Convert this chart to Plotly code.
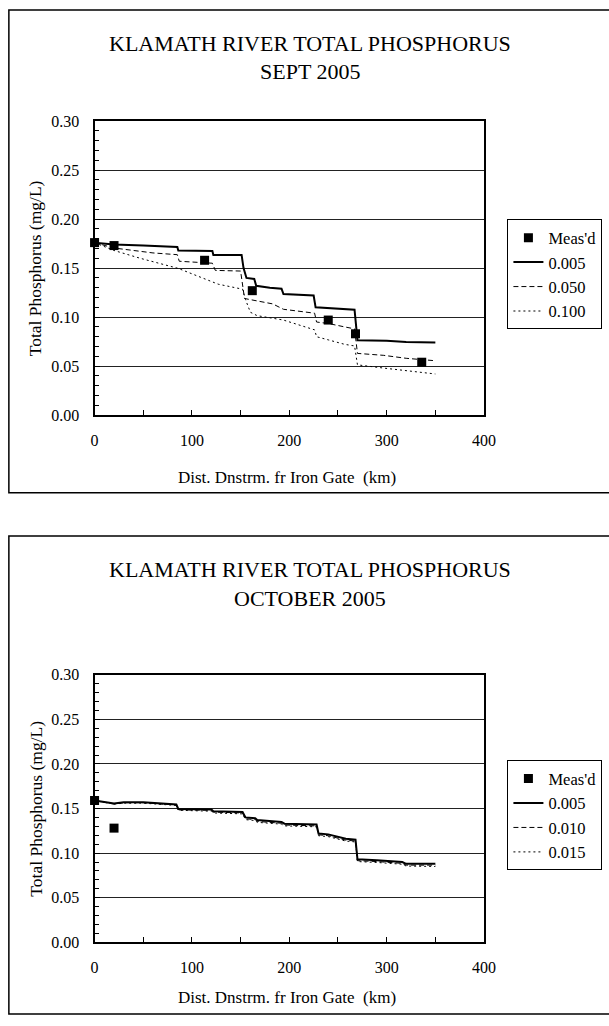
import plotly.graph_objects as go

# ---------------- September 2005 ----------------
sep_meas_km = [0, 20, 113, 162, 240, 268, 336]
sep_meas_tp = [0.176, 0.173, 0.158, 0.127, 0.097, 0.083, 0.054]

sep_005_km = [0, 20, 50, 85, 86, 121, 122, 151, 153, 156, 164, 166, 180, 192, 194,
              225, 227, 240, 255, 267, 270, 300, 320, 350]
sep_005_tp = [0.176, 0.174, 0.173, 0.1715, 0.168, 0.1675, 0.1635, 0.1635, 0.150, 0.140,
              0.139, 0.132, 0.130, 0.129, 0.1235, 0.122, 0.110, 0.109, 0.108, 0.1075,
              0.0765, 0.076, 0.0745, 0.0742]

sep_050_km = [0, 20, 60, 85, 87, 121, 124, 150, 154, 167, 183, 194, 226, 228, 240,
              257, 267, 270, 297, 320, 350]
sep_050_tp = [0.176, 0.1705, 0.1655, 0.1637, 0.157, 0.155, 0.1477, 0.147, 0.119,
              0.1165, 0.1135, 0.108, 0.104, 0.095, 0.0935, 0.090, 0.088, 0.063, 0.061,
              0.058, 0.0555]

sep_100_km = [0, 20, 47, 86, 127, 152, 155, 160, 167, 184, 194, 226, 228, 240, 257,
              267, 270, 297, 350]
sep_100_tp = [0.176, 0.168, 0.160, 0.1497, 0.1336, 0.1285, 0.118, 0.105, 0.1015,
              0.0983, 0.097, 0.087, 0.080, 0.0768, 0.0722, 0.0706, 0.0513, 0.048, 0.042]

# ---------------- October 2005 ----------------
oct_meas_km = [0, 20]
oct_meas_tp = [0.159, 0.128]

oct_km = [0, 10, 20, 30, 50, 84, 86, 120, 122, 152, 155, 165, 167, 192, 195, 228,
          230, 240, 252, 258, 268, 270, 290, 316, 320, 350]
oct_005_tp = [0.159, 0.157, 0.1555, 0.157, 0.157, 0.1545, 0.1495, 0.149, 0.147, 0.146,
              0.140, 0.139, 0.137, 0.135, 0.133, 0.132, 0.122, 0.121, 0.118, 0.116,
              0.115, 0.093, 0.092, 0.090, 0.088, 0.088]
oct_010_tp = [0.159, 0.157, 0.155, 0.1565, 0.1565, 0.154, 0.1485, 0.148, 0.146, 0.145,
              0.1385, 0.1375, 0.1355, 0.1335, 0.1315, 0.1305, 0.1205, 0.1195, 0.1165,
              0.1145, 0.1135, 0.0915, 0.0905, 0.0885, 0.0865, 0.0865]
oct_015_tp = [0.159, 0.157, 0.155, 0.156, 0.156, 0.1535, 0.148, 0.147, 0.145, 0.144,
              0.1375, 0.1365, 0.1345, 0.1325, 0.1305, 0.1295, 0.1195, 0.1185, 0.1155,
              0.1135, 0.1125, 0.0905, 0.0895, 0.0875, 0.0855, 0.085]

W, H = 609, 1026
FONT = "Liberation Serif, Times New Roman, serif"


def fx(px):
    return px / W


def fy(py):
    return 1 - py / H


fig = go.Figure()

panels = [
    dict(xa="x", ya="y", legend="legend",
         meas=(sep_meas_km, sep_meas_tp),
         lines=[(sep_005_km, sep_005_tp, "0.005"),
                (sep_050_km, sep_050_tp, "0.050"),
                (sep_100_km, sep_100_tp, "0.100")]),
    dict(xa="x2", ya="y2", legend="legend2",
         meas=(oct_meas_km, oct_meas_tp),
         lines=[(oct_km, oct_005_tp, "0.005"),
                (oct_km, oct_010_tp, "0.010"),
                (oct_km, oct_015_tp, "0.015")]),
]
styles = [dict(width=2, dash="solid"),
          dict(width=1, dash="5px,3px"),
          dict(width=1, dash="2px,3px")]

for p in panels:
    for (xs, ys, name), st in zip(p["lines"], styles):
        fig.add_trace(go.Scatter(
            x=xs, y=ys, name=name, mode="lines", xaxis=p["xa"], yaxis=p["ya"],
            legend=p["legend"], legendrank=2,
            line=dict(color="black", width=st["width"], dash=st["dash"])))
    fig.add_trace(go.Scatter(
        x=p["meas"][0], y=p["meas"][1], name="Meas'd", mode="markers",
        xaxis=p["xa"], yaxis=p["ya"], legend=p["legend"], legendrank=1,
        cliponaxis=False,
        marker=dict(symbol="square", size=9, color="black")))

# plot-area pixel boxes: (left, top, right, bottom)
boxes = [(93, 115, 493, 414), (93, 678, 493, 950)]

xaxis_style = dict(range=[0, 400], dtick=100, tick0=0, ticks="inside", ticklen=5,
                   tickcolor="black", showgrid=False, zeroline=False,
                   showline=True, mirror=True, linecolor="black", linewidth=2,
                   minor=dict(dtick=50, ticks="inside", ticklen=5, tickcolor="black"),
                   tickfont=dict(family=FONT, size=16, color="black"),
                   ticklabelstandoff=10, fixedrange=True)
yaxis_style = dict(range=[0, 0.30], dtick=0.05, tick0=0, tickformat=".2f",
                   ticks="inside", ticklen=5, tickcolor="black",
                   showgrid=True, gridcolor="#222", gridwidth=1, zeroline=False,
                   showline=True, mirror=True, linecolor="black", linewidth=2,
                   minor=dict(dtick=0.01, ticks="inside", ticklen=4,
                              tickcolor="black", showgrid=False),
                   tickfont=dict(family=FONT, size=16, color="black"),
                   ticklabelstandoff=10, fixedrange=True)

(l1, t1, r1, b1), (l2, t2, r2, b2) = boxes
fig.update_layout(
    xaxis=dict(domain=[fx(l1), fx(r1)], anchor="y", **xaxis_style),
    yaxis=dict(domain=[fy(b1), fy(t1)], anchor="x", **yaxis_style),
    xaxis2=dict(domain=[fx(l2), fx(r2)], anchor="y2", **xaxis_style),
    yaxis2=dict(domain=[fy(b2), fy(t2)], anchor="x2", **yaxis_style),
)

legend_style = dict(xanchor="left", yanchor="top", bgcolor="white",
                    bordercolor="black", borderwidth=1, tracegroupgap=0,
                    font=dict(family=FONT, size=16.5, color="black"),
                    itemwidth=30)
fig.update_layout(
    legend=dict(x=fx(517), y=fy(215), **legend_style),
    legend2=dict(x=fx(517), y=fy(765), **legend_style),
)

# chart-area frames (right edge runs past the page)
frames = [(5, 2, 493), (5, 537, 1023)]
shapes = []
for left, top, bottom in frames:
    shapes.append(dict(type="rect", xref="paper", yref="paper",
                       x0=fx(left), x1=1.05, y0=fy(bottom), y1=fy(top),
                       line=dict(color="black", width=1.5), fillcolor="rgba(0,0,0,0)",
                       layer="below"))

annotations = []
titles = [("KLAMATH RIVER TOTAL PHOSPHORUS", "SEPT 2005", 36, 65),
          ("KLAMATH RIVER TOTAL PHOSPHORUS", "OCTOBER 2005", 571, 600)]
for line1, line2, y1, y2 in titles:
    for txt, yy in ((line1, y1), (line2, y2)):
        annotations.append(dict(text=txt, xref="paper", yref="paper",
                                x=fx(314), y=fy(yy), xanchor="center",
                                yanchor="middle", showarrow=False,
                                font=dict(family=FONT, size=22, color="black")))

for (l, t, r, b), xt_y in zip(boxes, (477, 1006)):
    annotations.append(dict(text="Dist. Dnstrm. fr Iron Gate  (km)", xref="paper",
                            yref="paper", x=fx(291), y=fy(xt_y),
                            xanchor="center", yanchor="middle", showarrow=False,
                            font=dict(family=FONT, size=17, color="black")))
    annotations.append(dict(text="Total Phosphorus (mg/L)", xref="paper",
                            yref="paper", x=fx(32), y=fy((t + b) / 2),
                            xanchor="center", yanchor="middle", textangle=-90,
                            showarrow=False,
                            font=dict(family=FONT, size=17.5, color="black")))

fig.update_layout(
    width=W, height=H, margin=dict(l=0, r=0, t=0, b=0),
    paper_bgcolor="white", plot_bgcolor="white",
    shapes=shapes, annotations=annotations,
    font=dict(family=FONT, color="black"),
)

fig.write_html("out.html", config={"displayModeBar": False})
